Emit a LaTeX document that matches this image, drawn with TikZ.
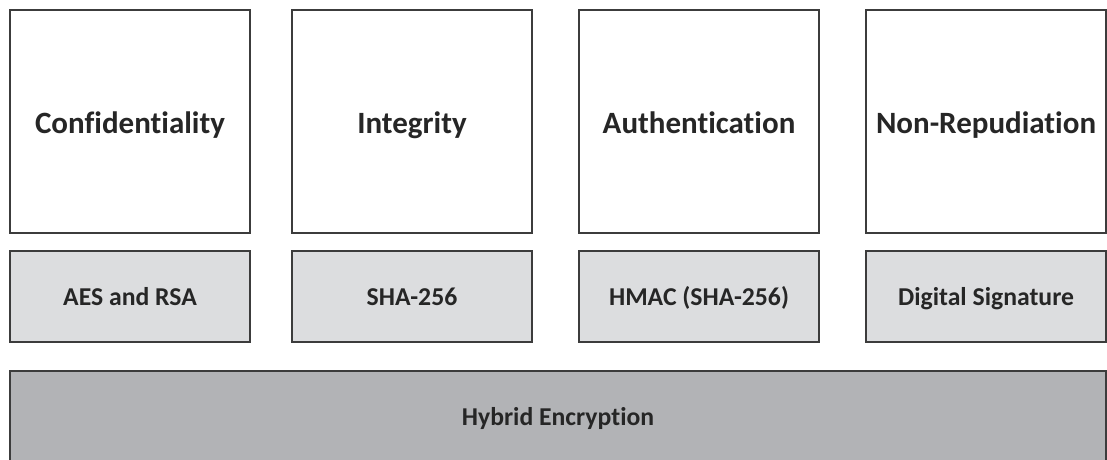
\documentclass[tikz,border=0pt]{standalone}
\usepackage{fontspec}
\setmainfont{Carlito}[Ligatures=NoCommon]
\definecolor{boxline}{HTML}{3C3C3C}
\definecolor{algofill}{HTML}{DCDDDF}
\definecolor{basefill}{HTML}{B2B3B6}
\tikzstyle{goal}=[rectangle,draw=boxline,line width=1.2pt,fill=white,minimum width=240pt,minimum height=223pt,inner sep=0pt,text=black!85,text height=25pt,text depth=2pt,font=\bfseries\fontsize{31}{36}\selectfont]
\tikzstyle{algo}=[goal,fill=algofill,minimum height=91pt,text height=19pt,text depth=2pt,font=\bfseries\fontsize{25.7}{30}\selectfont]
\tikzstyle{base}=[algo,fill=basefill,minimum width=1096pt]
\begin{document}
\begin{tikzpicture}[x=1pt,y=-1pt]
    \useasboundingbox (0,0) rectangle (1107,459);

    % security goals
    \foreach \pos/ \name/ \txt in {{(130,121.5)/conf/Confidentiality}, {(412,121.5)/integ/Integrity}, {(699,121.5)/auth/Authentication}, {(986,121.5)/nonrep/Non-Repudiation}}
        \node[goal] (\name) at \pos {\txt};

    % mechanisms
    \foreach \pos/ \name/ \txt in {{(130,296.5)/aes/AES and RSA}, {(412,296.5)/sha/SHA-256}, {(699,296.5)/hmac/HMAC (SHA-256)}, {(986,296.5)/sig/Digital Signature}}
        \node[algo] (\name) at \pos {\txt};

    \node[base] (hybrid) at (558,416.5) {Hybrid Encryption};
\end{tikzpicture}
\end{document}
